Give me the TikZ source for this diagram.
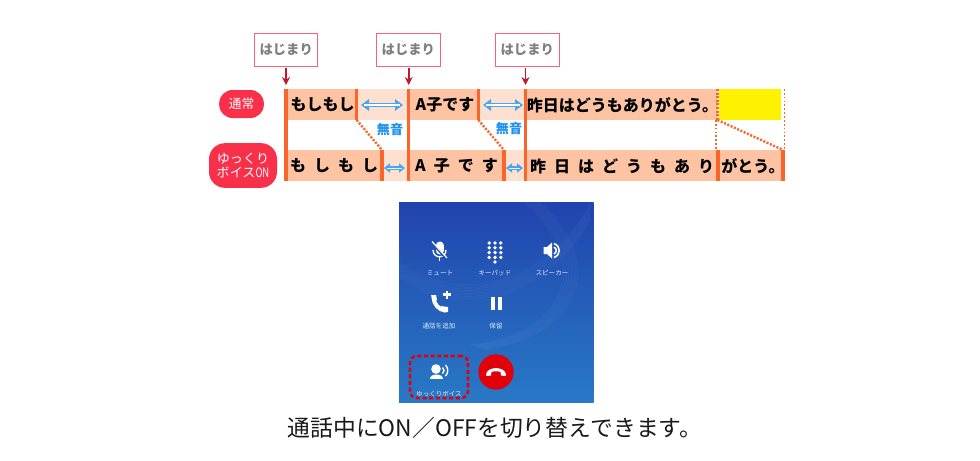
\documentclass[tikz,border=0pt]{standalone}
\usepackage{fontspec}
\setmainfont{Noto Sans CJK JP}
\usetikzlibrary{arrows.meta}
\definecolor{band}{HTML}{FDC3A3}
\definecolor{bandl}{HTML}{FDE0D0}
\definecolor{bar}{HTML}{F9652B}
\definecolor{pill}{HTML}{F8304A}
\definecolor{boxr}{HTML}{F2647A}
\definecolor{arrr}{HTML}{C2182F}
\definecolor{sky}{HTML}{46A6F2}
\definecolor{skyt}{HTML}{1E90F0}
\definecolor{phtop}{HTML}{2144AE}
\definecolor{phbot}{HTML}{2879C6}
\definecolor{hang}{HTML}{E2000B}
\newcommand{\fs}[1]{\fontsize{#1}{#1}\selectfont}
\tikzset{
  startbox/.style={draw=boxr,line width=.7pt,fill=white,minimum width=47.5pt,minimum height=24.5pt,inner sep=0pt,text=black!50,font=\fs{10}\bfseries},
  startarr/.style={draw=arrr,line width=1.3pt,-{Stealth[length=6pt,width=6pt]}},
  pillbox/.style={fill=pill,text=white,rounded corners=10pt,inner sep=0pt,align=center},
  say/.style={inner sep=0pt,text=black,font=\fs{12}\bfseries},
  barline/.style={draw=bar,line width=2.3pt},
  dotline/.style={draw=bar,line width=1.8pt,dash pattern=on 1.5pt off 1.2pt},
  thin dots/.style={draw=bar,line width=.9pt,dash pattern=on 1.3pt off 1.6pt},
  gapo/.style={draw=sky,line width=3.4pt,{Triangle[length=6pt,width=8.5pt]}-{Triangle[length=6pt,width=8.5pt]}},
  gapi/.style={draw=white,line width=.8pt,shorten >=2.4pt,shorten <=2.4pt},
  gapso/.style={draw=sky,line width=2.8pt,{Triangle[length=4.5pt,width=6.8pt]}-{Triangle[length=4.5pt,width=6.8pt]}},
  gapsi/.style={draw=white,line width=.7pt,shorten >=2pt,shorten <=2pt},
  muon/.style={inner sep=0pt,text=skyt,font=\fs{9.8}\bfseries},
  plabel/.style={inner sep=0pt,text=white!85!phbot,font=\fs{4.9}},
}
\begin{document}
\begin{tikzpicture}[x=.75pt,y=-.75pt]
\useasboundingbox (0,0) rectangle (980,460);
\fill[white] (0,0) rectangle (980,460);
% bands
\fill[band] (286,89) rectangle (357,120);
\fill[bandl] (357,89) rectangle (408,120);
\fill[band] (408,89) rectangle (479,120);
\fill[bandl] (479,89) rectangle (525,120);
\fill[band] (525,89) rectangle (718,120);
\fill[yellow] (719,89) rectangle (781,120);
\fill[band] (286,150) rectangle (382,181);
\fill[bandl] (382,150) rectangle (408,181);
\fill[band] (408,150) rectangle (504,181);
\fill[bandl] (504,150) rectangle (525,181);
\fill[band] (525,150) rectangle (784,181);
% anchor points
\coordinate (t1) at (286,85); \coordinate (b1) at (286,181);
\coordinate (t2) at (408.7,85); \coordinate (b2) at (408.7,181);
\coordinate (t3) at (525.5,85); \coordinate (b3) at (525.5,181);
\coordinate (u1) at (356.7,89); \coordinate (u1b) at (356.7,120); \coordinate (d1t) at (382,150); \coordinate (d1) at (382,181);
\coordinate (u2) at (478.3,89); \coordinate (u2b) at (478.3,120); \coordinate (d2t) at (504,150); \coordinate (d2) at (504,181);
\coordinate (u3) at (717.5,89); \coordinate (u3b) at (717.5,120); \coordinate (d3t) at (718,150); \coordinate (d3) at (718,181);
\coordinate (u4) at (784.5,89); \coordinate (d4t) at (783,150); \coordinate (d4) at (783,181);
% bars
\draw[barline] (286,89) -- (b1);
\draw[barline] (408.7,89) -- (b2);
\draw[barline] (525.5,89) -- (b3);
\draw[barline] (u1) -- (u1b);
\draw[barline] (u2) -- (u2b);
\draw[barline] (d1t) -- (d1);
\draw[barline] (d2t) -- (d2);
\draw[barline] (d3t) -- (d3);
\draw[barline] (d4t) -- (d4);
\draw[dotline] (u3) -- (u3b);
\draw[dotline] (u1b) -- (d1t);
\draw[dotline] (u2b) -- (d2t);
\draw[dotline] (u3b) -- (d4t);
\draw[thin dots] (716,120) -- (716,150);
\draw[thin dots] (u4) -- (784.5,150);
% start boxes
\node[startbox] (s1) at (286.2,49.7) {はじまり};
\node[startbox] (s2) at (408.4,49.7) {はじまり};
\node[startbox] (s3) at (527.3,49.7) {はじまり};
\draw[startarr] (s1.south -| t1) ++(0,2) -- (t1);
\draw[startarr] (s2.south -| t2) ++(0,2) -- (t2);
\draw[startarr] (s3.south -| t3) ++(0,2) -- (t3);
% pills
\node[pillbox,minimum width=33.5pt,minimum height=21pt,font=\fs{9.5}] (normal) at (241.5,104) {通常};
\node[pillbox,minimum width=51pt,minimum height=33.5pt,rounded corners=12pt,font=\fs{9.8}] (slow) at (243,165.5) {ゆっくり\\[1pt]ボイス\scalebox{.72}[1]{ON}};
% speech
\node[say] (a1) at (322.5,105) {もしもし};
\node[say] (a2) at (445,105) {A子です};
\node[say] (a3) at (622.5,105) {昨日はどうもありがとう。};
\node[say] (c1) at (334,166) {\addfontfeature{LetterSpace=50}もしもし};
\node[say] (c2) at (456.5,166) {\addfontfeature{LetterSpace=50}A子です};
\node[say] (c3) at (622,166) {\addfontfeature{LetterSpace=50}昨日はどうもあり};
\node[say] (c4) at (753,166) {がとう。};
% silence arrows
\coordinate (g1a) at (361,105); \coordinate (g1b) at (403,105);
\coordinate (g2a) at (483,105); \coordinate (g2b) at (523,105);
\coordinate (h1a) at (384,168); \coordinate (h1b) at (405,168);
\coordinate (h2a) at (506,168); \coordinate (h2b) at (523,168);
\draw[gapo] (g1a) -- (g1b); \draw[gapi] (g1a) -- (g1b);
\draw[gapo] (g2a) -- (g2b); \draw[gapi] (g2a) -- (g2b);
\draw[gapso] (h1a) -- (h1b); \draw[gapsi] (h1a) -- (h1b);
\draw[gapso] (h2a) -- (h2b); \draw[gapsi] (h2a) -- (h2b);
\node[muon] (m1) at (390,130) {無音};
\node[muon] (m2) at (509,129) {無音};
% phone
\shade[top color=phtop,bottom color=phbot] (399,202.5) rectangle (593.5,402);
\begin{scope}
\clip (399,202.5) rectangle (593.5,402);
\foreach \k in {0,1.5,...,15}{
  \draw[white,opacity=.035,line width=.6pt] (399,{262+\k}) .. controls (450,{300+\k}) and (540,{295+\k}) .. (590,{205+\k});
  \draw[white,opacity=.035,line width=.6pt] ({525+\k},202.5) .. controls ({590+\k},260) and ({570+\k},335) .. ({470+\k},{345+\k*.3});
}
\end{scope}
% mute icon
\draw[white,line width=6pt,line cap=round] (439.5,245.5) -- (439.5,250.5);
\draw[white,line width=1pt] (433,250) .. controls (433,259) and (446,259) .. (446,250);
\draw[white,line width=1pt] (439.5,256) -- (439.5,261);
\draw[phtop!80!phbot,line width=1.6pt] (432,243) -- (447,259.5);
\draw[white,line width=.9pt] (432,241.5) -- (447,258);
% dial pad
\foreach \r in {0,1,2,3}{\foreach \c in {-1,0,1}{\fill[white] ({495+\c*5.8},{243+\r*4.8}) circle[radius=1.9];}}
\fill[white] (495,262) circle[radius=1.9];
% speaker
\fill[white] (543.5,247) -- (547,247) -- (552,242.5) -- (552,258.5) -- (547,254) -- (543.5,254) -- cycle;
\draw[white,line width=1.2pt] (554,247) .. controls (557,249) and (557,252) .. (554,254);
\draw[white,line width=1.2pt] (554,243.5) .. controls (561,246) and (561,255) .. (554,257.5);
% labels
\node[plabel] (l1) at (440,273) {ミュート};
\node[plabel] (l2) at (495,273) {キーパッド};
\node[plabel] (l3) at (552,273) {スピーカー};
% add call
\draw[white,line width=3pt,line cap=round] (433.5,297) .. controls (433.5,304) and (439,310) .. (445,310.5);
\fill[white] (431,295) -- (436,295) -- (437,300) -- (433,302) -- cycle;
\fill[white] (441,306) -- (448,307) -- (448,312) -- (443,312) -- cycle;
\draw[white,line width=1.6pt] (443,294.5) -- (451,294.5) (447,290.5) -- (447,298.5);
% pause
\fill[white] (491,297) rectangle (494.5,310);
\fill[white] (498,297) rectangle (501.5,310);
\node[plabel] (l4) at (439,326) {通話を追加};
\node[plabel] (l5) at (496,326) {保留};
% slow voice button
\fill[white] (436,369) circle[radius=4.8];
\fill[white] (430,379) .. controls (430,373) and (443,373) .. (443,379) -- cycle;
\draw[white,line width=1pt] (445.5,365) .. controls (448.5,368) and (448.5,373) .. (445.5,376);
\draw[white,line width=1pt] (442.5,367.5) .. controls (444.5,369.5) and (444.5,371.5) .. (442.5,373.5);
\node[plabel] (l6) at (439,394) {ゆっくりボイス};
\node[draw=hang,line width=1.9pt,dash pattern=on 3pt off 2pt,rounded corners=5pt,minimum width=43.5pt,minimum height=31.5pt,inner sep=0pt] (hl) at (439,377) {};
% hang up
\node[circle,fill=hang,minimum size=26.5pt,inner sep=0pt] (end) at (496,372) {};
\fill[white] (486,374.5) .. controls (487,366) and (505,366) .. (506,374.5) -- (505.5,376) -- (501,375.5) -- (500.5,372) .. controls (498,371) and (494,371) .. (491.5,372) -- (491,375.5) -- (486.5,376) -- cycle;
% caption
\node[inner sep=0pt,text=black!90,font=\fs{17.1}] (cap) at (495,428) {通話中にON／OFFを切り替えできます。};
\end{tikzpicture}
\end{document}
